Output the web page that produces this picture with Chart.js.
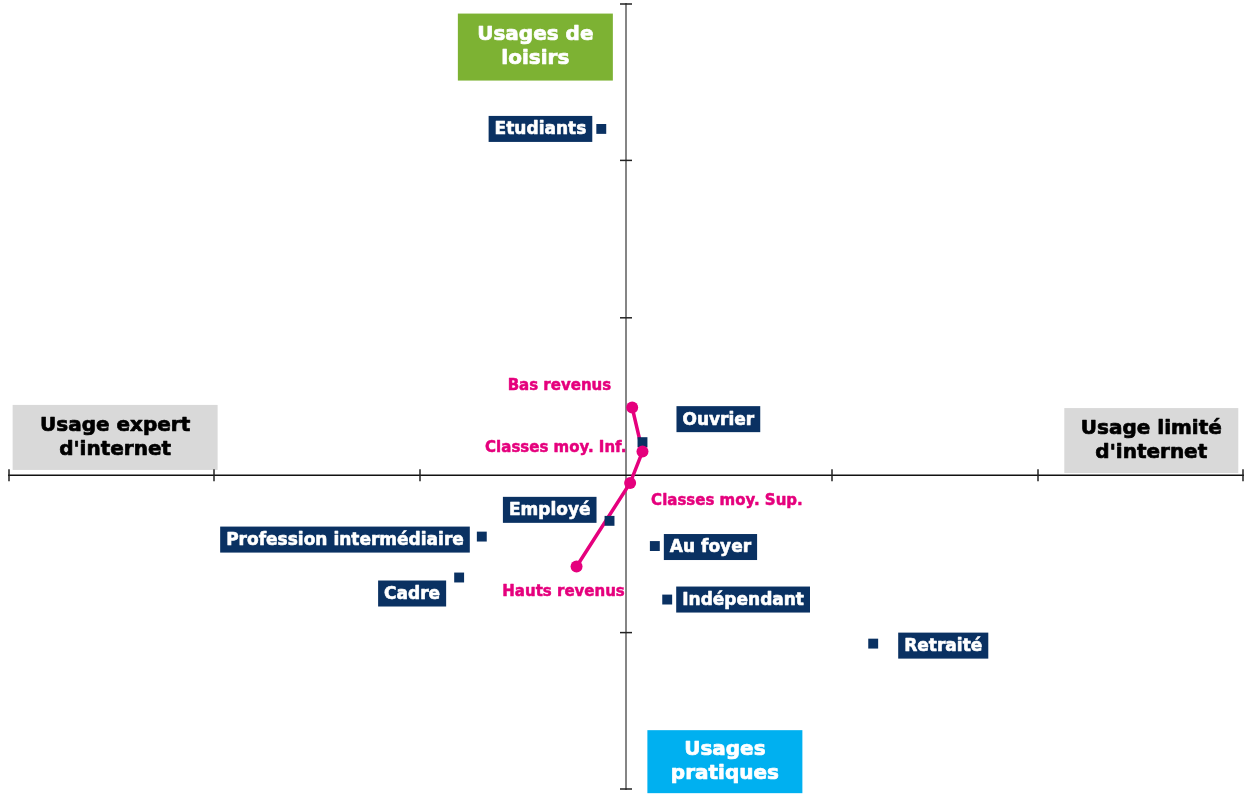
<!DOCTYPE html>
<html>
<head>
<meta charset="utf-8">
<script src="https://cdn.jsdelivr.net/npm/chart.js@4.4.1/dist/chart.umd.min.js"></script>
<style>
  html, body { margin: 0; padding: 0; background: #fff; }
  #wrap { width: 1244px; height: 794px; }
</style>
</head>
<body>
<div id="wrap"><canvas id="mapChart"></canvas></div>
<script>
// profils (carrés bleus)
const categories = ["Etudiants", "Ouvrier", "Employé", "Profession intermédiaire", "Cadre", "Au foyer", "Indépendant", "Retraité"];
const catX = [-0.12, 0.08, -0.08, -0.70, -0.81, 0.14, 0.20, 1.20];
const catY = [2.20, 0.21, -0.29, -0.39, -0.65, -0.45, -0.79, -1.07];

// niveaux de revenus (ligne rose)
const incomeLevels = ["Bas revenus", "Classes moy. Inf.", "Classes moy. Sup.", "Hauts revenus"];
const incomeX = [0.03, 0.08, 0.02, -0.24];
const incomeY = [0.43, 0.15, -0.05, -0.58];

// graduations des axes
const xTicks = [-3, -2, -1, 0, 1, 2, 3];
const yTicks = [-2, -1, 0, 1, 2, 3];

// étiquettes des quadrants
const quadrantTexts = [["Usages de", "loisirs"], ["Usages", "pratiques"], ["Usage expert", "d'internet"], ["Usage limité", "d'internet"]];
const quadrantX = [-0.44, 0.48, -2.48, 2.55];
const quadrantY = [2.72, -1.82, 0.24, 0.22];

const NAVY = "#0a3162";
const PINK = "#e5007d";
const FONT = "'DejaVu Sans', Verdana, sans-serif";

// décalage des étiquettes en pixels par rapport au point
const catLabelPos = [
    { dx: -9, dy: 0, align: "right" },
    { dx: 34, dy: -23, align: "left" },
    { dx: -13, dy: -11, align: "right" },
    { dx: -12, dy: 3, align: "right" },
    { dx: -13, dy: 16, align: "right" },
    { dx: 9, dy: 1, align: "left" },
    { dx: 9, dy: 0, align: "left" },
    { dx: 25, dy: 2, align: "left" }
];
const incomeLabelPos = [
    { dx: -21, dy: -21, align: "right" },
    { dx: -16, dy: -3, align: "right" },
    { dx: 21, dy: 18, align: "left" },
    { dx: -13, dy: 26, align: "center" }
];
const quadrantStyle = [
    { w: 155, h: 67, bg: "#7db233", color: "#fff" },
    { w: 155, h: 63, bg: "#00b0f0", color: "#fff" },
    { w: 205, h: 65, bg: "#d9d9d9", color: "#000" },
    { w: 174, h: 65, bg: "#d9d9d9", color: "#000" }
];

// texte gras un peu épaissi (proche du Verdana gras)
function heavyText(ctx, txt, x, y, color, weight) {
    ctx.fillStyle = color;
    ctx.strokeStyle = color;
    ctx.lineWidth = weight;
    ctx.lineJoin = "round";
    ctx.strokeText(txt, x, y);
    ctx.fillText(txt, x, y);
}

const axesPlugin = {
    id: "axesPlugin",
    beforeDatasetsDraw(chart) {
        const ctx = chart.ctx;
        const xs = chart.scales.x, ys = chart.scales.y;
        const x0 = xs.getPixelForValue(0), y0 = ys.getPixelForValue(0);
        const area = chart.chartArea;
        ctx.save();

        // cadres des quadrants
        quadrantTexts.forEach((lines, i) => {
            const st = quadrantStyle[i];
            const cx = xs.getPixelForValue(quadrantX[i]);
            const cy = ys.getPixelForValue(quadrantY[i]);
            ctx.fillStyle = st.bg;
            ctx.fillRect(cx - st.w / 2, cy - st.h / 2, st.w, st.h);
            ctx.font = "bold 20px " + FONT;
            ctx.textAlign = "center";
            ctx.textBaseline = "middle";
            heavyText(ctx, lines[0], cx, cy - 12, st.color, 0.7);
            heavyText(ctx, lines[1], cx, cy + 12, st.color, 0.7);
        });

        // axe vertical (gris)
        ctx.strokeStyle = "#858585";
        ctx.lineWidth = 2;
        ctx.beginPath();
        ctx.moveTo(x0, area.top);
        ctx.lineTo(x0, area.bottom);
        ctx.stroke();

        // axe horizontal (noir)
        ctx.strokeStyle = "#111";
        ctx.lineWidth = 1.5;
        ctx.beginPath();
        ctx.moveTo(area.left, y0);
        ctx.lineTo(area.right, y0);
        ctx.stroke();

        ctx.lineWidth = 1.5;
        ctx.strokeStyle = "#222";
        xTicks.forEach(v => {
            if (v === 0) return;
            const px = Math.min(Math.max(xs.getPixelForValue(v), area.left + 1), area.right - 1);
            ctx.beginPath();
            ctx.moveTo(px, y0 - 6);
            ctx.lineTo(px, y0 + 6);
            ctx.stroke();
        });
        yTicks.forEach(v => {
            if (v === 0) return;
            const py = Math.min(Math.max(ys.getPixelForValue(v), area.top + 1), area.bottom - 1);
            ctx.beginPath();
            ctx.moveTo(x0 - 6, py);
            ctx.lineTo(x0 + 6, py);
            ctx.stroke();
        });
        ctx.restore();
    },
    afterDatasetsDraw(chart) {
        const ctx = chart.ctx;
        const xs = chart.scales.x, ys = chart.scales.y;
        ctx.save();
        ctx.textBaseline = "middle";

        // étiquettes des profils
        ctx.font = "bold 17px " + FONT;
        categories.forEach((name, i) => {
            const p = catLabelPos[i];
            const px = xs.getPixelForValue(catX[i]) + p.dx;
            const py = ys.getPixelForValue(catY[i]) + p.dy;
            const w = ctx.measureText(name).width + 12;
            const left = p.align === "right" ? px - w : px;
            ctx.fillStyle = NAVY;
            ctx.fillRect(left, py - 13, w, 26);
            ctx.textAlign = "center";
            heavyText(ctx, name, left + w / 2, py + 1, "#fff", 0.6);
        });

        // étiquettes des revenus
        ctx.font = "bold 15px " + FONT;
        incomeLevels.forEach((name, i) => {
            const p = incomeLabelPos[i];
            ctx.textAlign = p.align;
            heavyText(ctx, name, xs.getPixelForValue(incomeX[i]) + p.dx, ys.getPixelForValue(incomeY[i]) + p.dy, PINK, 0.5);
        });
        ctx.restore();
    }
};

const incomePoints = incomeX.map((x, i) => ({ x: x, y: incomeY[i] }));
const catPoints = catX.map((x, i) => ({ x: x, y: catY[i] }));

new Chart(document.getElementById("mapChart"), {
    type: "scatter",
    data: {
        datasets: [
            {
                label: "Revenus (ligne)",
                data: incomePoints,
                showLine: true,
                borderColor: PINK,
                borderWidth: 3.5,
                pointRadius: 0,
                order: 3
            },
            {
                label: "Profils",
                data: catPoints,
                pointStyle: "rect",
                pointRadius: 7,
                backgroundColor: NAVY,
                borderColor: NAVY,
                borderWidth: 0,
                order: 2
            },
            {
                label: "Revenus",
                data: incomePoints,
                pointRadius: 6,
                backgroundColor: PINK,
                borderColor: PINK,
                borderWidth: 0,
                order: 1
            }
        ]
    },
    options: {
        responsive: true,
        maintainAspectRatio: false,
        animation: false,
        layout: { autoPadding: false, padding: { left: 8, right: 0, top: 3, bottom: 4 } },
        plugins: {
            legend: { display: false },
            tooltip: { enabled: false }
        },
        scales: {
            x: { type: "linear", min: -3, max: 3, display: false },
            y: { type: "linear", min: -2, max: 3, display: false }
        }
    },
    plugins: [axesPlugin]
});
</script>
</body>
</html>
